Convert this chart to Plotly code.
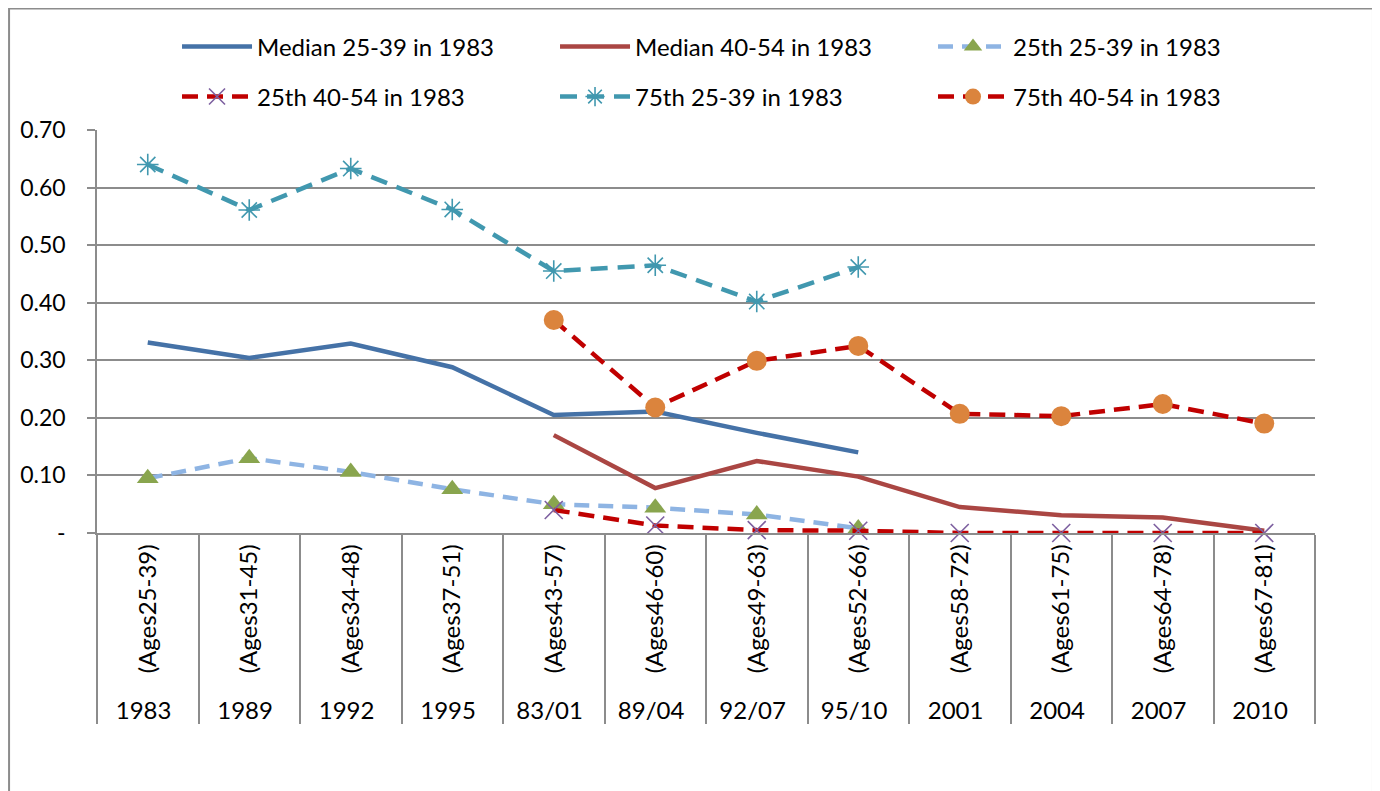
import plotly.graph_objects as go

outer = ["1983", "1989", "1992", "1995", "83/01", "89/04", "92/07", "95/10",
         "2001", "2004", "2007", "2010"]
inner = ["(Ages25-39)", "(Ages31-45)", "(Ages34-48)", "(Ages37-51)", "(Ages43-57)",
         "(Ages46-60)", "(Ages49-63)", "(Ages52-66)", "(Ages58-72)", "(Ages61-75)",
         "(Ages64-78)", "(Ages67-81)"]

median_25_39 = [0.331, 0.304, 0.329, 0.288, 0.205, 0.211, 0.174, 0.140, None, None, None, None]
median_40_54 = [None, None, None, None, 0.170, 0.078, 0.125, 0.098, 0.045, 0.031, 0.027, 0.004]
p25_25_39 = [0.095, 0.130, 0.106, 0.076, 0.050, 0.044, 0.032, 0.008, None, None, None, None]
p25_40_54 = [None, None, None, None, 0.040, 0.013, 0.005, 0.004, 0.000, 0.000, 0.000, 0.000]
p75_25_39 = [0.640, 0.561, 0.633, 0.562, 0.455, 0.465, 0.402, 0.462, None, None, None, None]
p75_40_54 = [None, None, None, None, 0.370, 0.218, 0.299, 0.325, 0.207, 0.203, 0.224, 0.190]

y_ticks = [0, 0.1, 0.2, 0.3, 0.4, 0.5, 0.6, 0.7]
y_ticktext = ["-", "0.10", "0.20", "0.30", "0.40", "0.50", "0.60", "0.70"]

x = [outer, inner]
FONT = "Lato"
GRID = "#8c8c8c"

fig = go.Figure()
fig.add_trace(go.Scatter(x=x, y=median_25_39, name="Median 25-39 in 1983", mode="lines",
                         line=dict(color="#4572A7", width=4.5), legend="legend",
                         cliponaxis=False))
fig.add_trace(go.Scatter(x=x, y=median_40_54, name="Median 40-54 in 1983", mode="lines",
                         line=dict(color="#AA4643", width=4.5), legend="legend",
                         cliponaxis=False))
fig.add_trace(go.Scatter(x=x, y=p25_25_39, name="25th 25-39 in 1983", mode="lines+markers",
                         line=dict(color="#8EB4E3", width=4.5, dash="15px,9px"),
                         marker=dict(symbol="triangle-up", size=19, color="#89A54E"),
                         legend="legend", cliponaxis=False))
fig.add_trace(go.Scatter(x=x, y=p25_40_54, name="25th 40-54 in 1983", mode="lines+markers",
                         line=dict(color="#C00000", width=4.5, dash="16px,9px"),
                         marker=dict(symbol="x-thin", size=18, color="#7D60A0",
                                     line=dict(color="#7D60A0", width=1.6)),
                         legend="legend2", cliponaxis=False))
fig.add_trace(go.Scatter(x=x, y=p75_25_39, name="75th 25-39 in 1983", mode="lines+markers",
                         line=dict(color="#4198AF", width=4.5, dash="17px,10px"),
                         marker=dict(symbol="asterisk-open", size=18, color="#4198AF",
                                     line=dict(color="#4198AF", width=1.6)),
                         legend="legend2", cliponaxis=False))
fig.add_trace(go.Scatter(x=x, y=p75_40_54, name="75th 40-54 in 1983", mode="lines+markers",
                         line=dict(color="#C00000", width=4.5, dash="16px,9px"),
                         marker=dict(symbol="circle", size=20, color="#DB843D"),
                         legend="legend2", cliponaxis=False))

legend_common = dict(orientation="h", xanchor="left", yanchor="middle",
                     font=dict(family=FONT, size=24, color="#000000"),
                     bgcolor="rgba(0,0,0,0)", itemwidth=70,
                     entrywidth=293, entrywidthmode="pixels", traceorder="normal")

fig.update_layout(
    width=1380, height=791,
    margin=dict(l=89, r=73, t=122, b=266, autoexpand=False),
    paper_bgcolor="white", plot_bgcolor="white",
    font=dict(family=FONT, size=23, color="#000000"),
    showlegend=True,
    legend=dict(x=0.0657, y=1.206, **legend_common),
    legend2=dict(x=0.0657, y=1.082, **legend_common),
    xaxis=dict(type="multicategory", range=[-0.5, 11.5], autorange=False,
               showgrid=False, showline=True, linecolor=GRID,
               linewidth=1.5, ticks="", tickangle=-90, showdividers=True,
               dividercolor=GRID, dividerwidth=1.5,
               tickfont=dict(family=FONT, size=24, color="#000000")),
    yaxis=dict(range=[0, 0.7], tickvals=y_ticks, ticktext=y_ticktext,
               showgrid=True, gridcolor=GRID, gridwidth=1.5, zeroline=False,
               showline=True, linecolor=GRID, linewidth=1.5,
               ticks="outside", ticklen=8, tickcolor=GRID, tickwidth=1.5,
               ticklabelstandoff=17,
               tickfont=dict(family=FONT, size=23, color="#000000")),
    shapes=[dict(type="rect", xref="paper", yref="paper",
                 x0=-0.0722, x1=1.0476, y0=-0.7, y1=1.3015,
                 line=dict(color="#8c8c8c", width=2), fillcolor="rgba(0,0,0,0)",
                 layer="below")],
)

fig.write_html("out.html")
